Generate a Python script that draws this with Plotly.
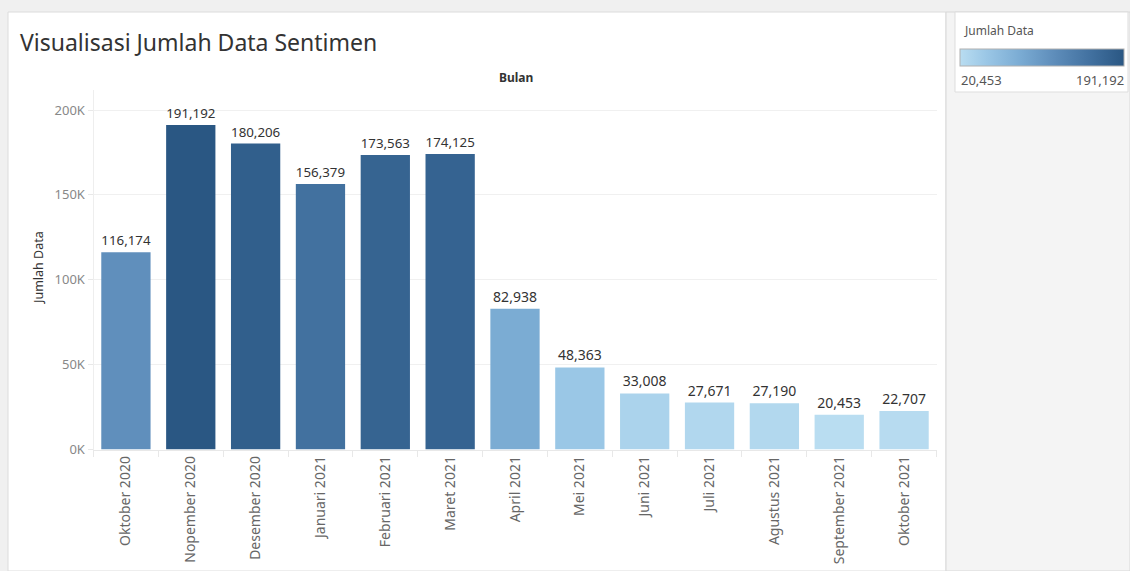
import plotly.graph_objects as go

months = ["Oktober 2020", "Nopember 2020", "Desember 2020", "Januari 2021",
          "Februari 2021", "Maret 2021", "April 2021", "Mei 2021", "Juni 2021",
          "Juli 2021", "Agustus 2021", "September 2021", "Oktober 2021"]
jumlah = [116174, 191192, 180206, 156379, 173563, 174125, 82938, 48363,
          33008, 27671, 27190, 20453, 22707]
ytick_vals = [0, 50000, 100000, 150000, 200000]
ytick_text = ["0K", "50K", "100K", "150K", "200K"]

W, H = 1130, 571
def px(x):
    return x / W
def py(y):
    return 1 - y / H

FONT = "Noto Sans"
vmin, vmax = min(jumlah), max(jumlah)

colorscale = [
    [0.0, "#b9ddf1"],
    [0.16, "#9bc7e6"],
    [0.37, "#7aabd3"],
    [0.56, "#608fbc"],
    [0.80, "#41709f"],
    [1.0, "#2a5783"],
]

fig = go.Figure()
fig.add_trace(go.Bar(
    x=months, y=jumlah,
    marker=dict(
        color=jumlah, colorscale=colorscale, cmin=vmin, cmax=vmax,
        showscale=True,
        colorbar=dict(
            orientation="h", lenmode="pixels", len=184, thickness=17,
            xpad=10, ypad=0,
            x=px(1042), xanchor="center", y=py(58.5), yanchor="middle",
            showticklabels=False, ticks="", outlinecolor="#b0b0b0",
            outlinewidth=1,
        ),
        line=dict(width=0),
    ),
    texttemplate="%{y:,}", textposition="outside",
    textfont=dict(family=FONT, size=14, color="#333333"),
    cliponaxis=False,
    hoverinfo="x+y",
))

shapes = [
    dict(type="rect", xref="paper", yref="paper", x0=px(8), x1=px(946),
         y0=py(571), y1=py(12), fillcolor="white",
         line=dict(color="#dcdcdc", width=1), layer="below"),
    dict(type="rect", xref="paper", yref="paper", x0=px(946), x1=px(1130),
         y0=py(571), y1=py(12), fillcolor="#f4f4f4",
         line=dict(color="#d8d8d8", width=1), layer="below"),
    dict(type="rect", xref="paper", yref="paper", x0=px(955), x1=px(1128),
         y0=py(92), y1=py(12), fillcolor="white",
         line=dict(color="#dddddd", width=1), layer="below"),
]

annotations = [
    dict(text="Visualisasi Jumlah Data Sentimen", xref="paper", yref="paper",
         x=px(18), y=py(42), xanchor="left", yanchor="middle", showarrow=False,
         font=dict(family=FONT, size=23, color="#333333")),
    dict(text="<b>Bulan</b>", xref="paper", yref="paper",
         x=px(516), y=py(78), xanchor="center", yanchor="middle", showarrow=False,
         font=dict(family=FONT, size=12, color="#333333")),
    dict(text="Jumlah Data", xref="paper", yref="paper",
         x=px(962), y=py(30), xanchor="left", yanchor="middle", showarrow=False,
         font=dict(family=FONT, size=12, color="#555555")),
    dict(text=f"{vmin:,}", xref="paper", yref="paper",
         x=px(959), y=py(80), xanchor="left", yanchor="middle", showarrow=False,
         font=dict(family=FONT, size=13, color="#555555")),
    dict(text=f"{vmax:,}", xref="paper", yref="paper",
         x=px(1126), y=py(80), xanchor="right", yanchor="middle", showarrow=False,
         font=dict(family=FONT, size=13, color="#555555")),
    dict(text="Jumlah Data", xref="paper", yref="paper",
         x=px(38), y=py(268), xanchor="center", yanchor="middle", showarrow=False,
         textangle=-90,
         font=dict(family=FONT, size=12.5, color="#333333")),
]

y_top = 200000 * (449.5 - 90) / (449.5 - 110)

fig.update_layout(
    width=W, height=H,
    margin=dict(l=0, r=0, t=0, b=0, autoexpand=False),
    paper_bgcolor="#f0f0f0",
    plot_bgcolor="white",
    showlegend=False,
    bargap=0.24,
    shapes=shapes,
    annotations=annotations,
    font=dict(family=FONT),
    xaxis=dict(
        domain=[px(93.5), px(936.5)],
        automargin=False,
        tickangle=-90,
        tickfont=dict(family=FONT, size=14, color="#666666"),
        ticks="outside", tickson="boundaries", ticklen=6, tickcolor="#e8e8e8",
        showline=True, linecolor="#e8e8e8", linewidth=1,
        showgrid=False,
    ),
    yaxis=dict(
        domain=[py(449.5), py(90)],
        automargin=False,
        range=[0, y_top],
        tickvals=ytick_vals, ticktext=ytick_text,
        tickfont=dict(family=FONT, size=13, color="#888888"),
        ticks="outside", ticklen=5, tickcolor="#e8e8e8",
        showgrid=True, gridcolor="#f0f0f0", gridwidth=1,
        showline=True, linecolor="#eeeeee",
        zeroline=False,
    ),
)

fig.write_html("out.html")
